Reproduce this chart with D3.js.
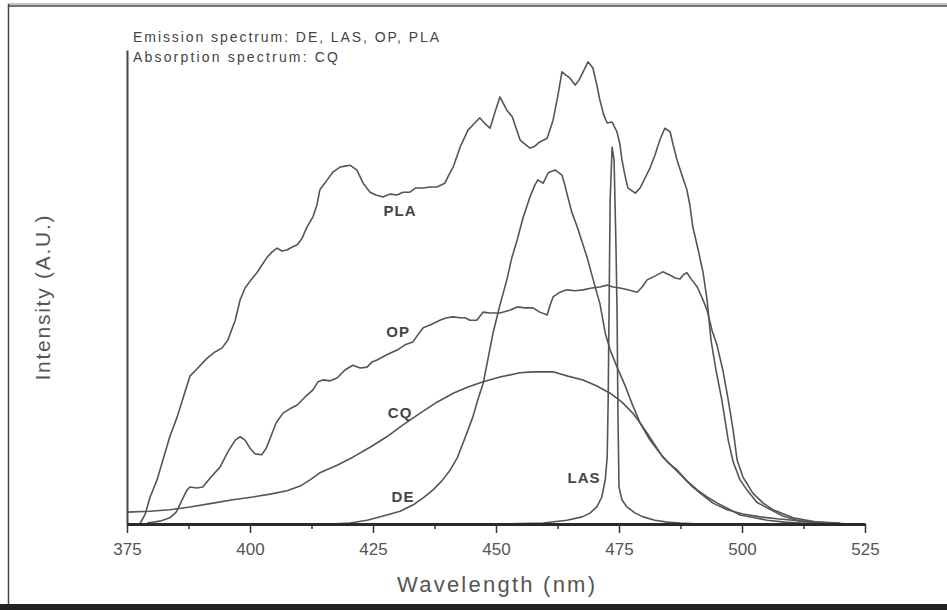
<!DOCTYPE html>
<html lang="en">

<head>
  <meta charset="UTF-8">
  <title>Emission / absorption spectra</title>
  <script src="https://d3js.org/d3.v7.min.js"></script>
  <style>
    body {
      margin: 0;
      background: #fff;
    }

    .curve {
      fill: none;
      stroke: #555;
      stroke-width: 1.6px;
      stroke-linejoin: round;
    }

    .tick text {
      font-family: "Liberation Sans", Arial, sans-serif;
      font-size: 17px;
      fill: #555;
    }

    .note {
      font-family: "Liberation Sans", Arial, sans-serif;
      fill: #444;
    }
  </style>
</head>

<body>
  <div id="chart"></div>
  <script>
    // x ticks (nm)
    const xTicks = [375, 400, 425, 450, 475, 500, 525];
    const xMinor = [387.5, 412.5, 437.5, 462.5, 487.5, 512.5];

    // [wavelength nm, intensity a.u. 0..100]
    const PLA = [[377.6, 0], [378.7, 2.1], [379.7, 5.7], [381.1, 9.3], [382.3, 13.5], [383.7, 18.4], [385.2, 22.6],
      [386.4, 26.6], [387.8, 31.2], [389.4, 32.9], [391.3, 35.0], [392.9, 36.3], [394.3, 37.1], [395.5, 38.8],
      [397.0, 43.0], [398.0, 47.3], [399.0, 49.8], [400.2, 51.5], [401.4, 53.0], [402.4, 54.6], [403.5, 56.3],
      [404.5, 57.4], [405.5, 58.2], [406.5, 57.6], [407.5, 57.8], [408.5, 58.4], [409.6, 58.9], [410.6, 60.3],
      [411.6, 62.7], [412.8, 64.8], [413.6, 67.3], [414.2, 70.5], [415.7, 72.6], [416.9, 74.3], [418.3, 75.3],
      [419.3, 75.5], [420.3, 75.7], [421.7, 74.7], [423.0, 71.9], [424.4, 70.0], [425.6, 69.4], [427.0, 69.0],
      [428.5, 69.6], [429.9, 69.4], [431.1, 70.0], [432.5, 70.0], [433.7, 70.9], [435.2, 70.9], [436.6, 71.1],
      [438.0, 71.1], [439.6, 71.9], [440.4, 73.6], [441.3, 75.3], [442.7, 79.5], [444.3, 83.1], [445.5, 84.4],
      [446.7, 85.7], [447.8, 84.4], [448.8, 83.5], [449.8, 86.9], [450.8, 90.1], [452.2, 87.3], [453.3, 85.9],
      [454.9, 81.0], [456.9, 79.3], [457.9, 79.7], [458.9, 80.6], [460.4, 81.4], [461.6, 85.2], [462.6, 90.5],
      [463.4, 95.4], [464.2, 94.7], [465.0, 94.1], [466.1, 92.6], [466.9, 93.7], [467.7, 95.4], [468.7, 97.5],
      [469.7, 96.2], [470.5, 92.6], [471.1, 89.5], [471.9, 86.3], [472.6, 84.6], [473.6, 84.8], [474.6, 82.7],
      [475.2, 80.0], [475.6, 76.8], [476.2, 73.6], [476.8, 70.9], [478.3, 69.8], [479.3, 70.9], [480.3, 73.0],
      [481.3, 75.1], [482.3, 77.8], [483.3, 81.0], [484.3, 83.5], [485.4, 82.7], [486.0, 80.0], [486.8, 76.8],
      [487.8, 73.6], [488.8, 70.5], [489.4, 67.3], [490.0, 62.7], [491.1, 57.8], [492.1, 53.0], [492.9, 47.3],
      [493.7, 38.8], [494.7, 32.5], [495.9, 26.2], [497.2, 17.7], [498.2, 13.1], [499.6, 9.3], [501.0, 7.2],
      [503.0, 4.6], [505.1, 3.4], [508.3, 1.7], [511.8, 0.6], [518.5, 0.2], [522, 0]];

    const OP = [[379.1, 0.2], [381.7, 0.6], [383.7, 1.3], [385.0, 2.5], [386.2, 5.1], [387.2, 7.2], [387.8, 7.8],
      [389.2, 7.6], [390.4, 7.8], [391.9, 9.7], [393.9, 12.0], [395.5, 15.2], [397.0, 17.7], [398.0, 18.4],
      [399.0, 17.7], [400.0, 16.0], [401.0, 14.8], [402.4, 14.6], [403.3, 16.0], [404.1, 18.1], [405.3, 21.3],
      [406.7, 23.4], [408.1, 24.3], [409.6, 25.1], [411.2, 26.8], [412.8, 28.3], [413.8, 30.0], [414.8, 30.4],
      [416.3, 30.2], [417.7, 30.8], [419.3, 32.5], [420.9, 33.5], [422.4, 32.9], [423.8, 33.1], [424.8, 34.2],
      [425.8, 34.6], [427.8, 35.7], [429.9, 36.7], [431.5, 37.8], [433.1, 38.4], [434.1, 39.9], [435.2, 41.4],
      [436.6, 42.0], [438.6, 43.0], [440.0, 43.5], [441.3, 43.7], [442.7, 43.5], [443.7, 43.5], [444.7, 43.0],
      [446.1, 43.0], [447.4, 44.7], [448.8, 44.5], [450.8, 44.5], [452.8, 45.1], [454.3, 45.8], [455.9, 45.6],
      [457.5, 45.6], [458.9, 44.7], [460.4, 44.1], [461.0, 46.2], [461.6, 47.9], [463.0, 48.9], [464.4, 49.4],
      [466.1, 49.2], [467.7, 49.4], [469.5, 49.8], [471.1, 50.0], [472.6, 50.4], [473.8, 50.0], [475.2, 49.8],
      [476.8, 49.4], [478.7, 48.9], [479.7, 50.0], [480.7, 51.5], [482.3, 52.3], [483.9, 53.2], [485.4, 52.5],
      [486.4, 51.9], [487.4, 51.7], [488.2, 52.7], [488.8, 53.0], [489.8, 51.5], [490.9, 50.0], [491.9, 47.7],
      [492.9, 45.1], [493.9, 40.9], [494.9, 37.8], [496.1, 32.5], [497.2, 26.2], [498.2, 19.8], [499.0, 13.5],
      [500.2, 9.9], [502.2, 6.5], [504.3, 4.4], [506.3, 3.0], [510.4, 1.3], [515.2, 0.4], [519.9, 0.2]];

    const DE = [[416.3, 0], [420.3, 0.2], [423.8, 0.8], [427.8, 1.9], [430.5, 2.7], [433.1, 4.0], [435.2, 5.5],
      [437.2, 7.2], [439.0, 9.1], [440.7, 11.4], [442.1, 13.9], [443.3, 17.1], [444.3, 19.8], [445.3, 22.6],
      [446.3, 26.2], [447.4, 29.7], [448.4, 35.0], [449.4, 40.3], [450.8, 46.2], [452.2, 51.5], [453.2, 56.1],
      [454.3, 59.9], [455.5, 64.6], [456.9, 69.0], [457.9, 71.5], [458.5, 72.6], [459.6, 71.9], [460.6, 74.1],
      [462.0, 74.7], [463.4, 73.6], [464.0, 71.5], [464.6, 69.0], [465.4, 65.8], [466.5, 62.7], [467.5, 59.5],
      [468.5, 56.3], [469.5, 52.5], [470.5, 48.7], [471.1, 46.6], [472.2, 40.3], [473.2, 36.7], [474.6, 33.1],
      [476.2, 29.3], [477.6, 25.5], [479.3, 21.3], [481.3, 17.7], [483.3, 15.0], [485.0, 12.9], [486.8, 11.4],
      [488.8, 9.1], [490.9, 7.2], [492.9, 5.7], [495.0, 4.4], [497.2, 3.2], [499.6, 1.9], [502.6, 1.3],
      [505.1, 0.8], [508.7, 0.4], [511.8, 0.2], [515.9, 0]];

    const CQ = [[375, 2.5], [379.7, 2.7], [383.7, 3.0], [387.8, 3.6], [392.5, 4.4], [396.5, 5.1], [400.6, 5.7],
      [404.1, 6.3], [407.5, 7.0], [410.2, 8.0], [412.2, 9.3], [414.2, 10.8], [417.7, 12.4], [420.9, 14.1],
      [424.4, 16.2], [427.8, 18.4], [431.1, 20.9], [434.6, 23.4], [438.0, 25.7], [441.3, 27.6], [444.3, 28.9],
      [447.4, 30.0], [450.8, 31.0], [454.9, 31.9], [457.5, 32.1], [460.0, 32.1], [461.6, 32.1], [464.6, 31.2],
      [467.7, 30.4], [470.5, 29.1], [473.2, 27.6], [475.6, 25.7], [477.8, 23.4], [479.3, 21.3], [480.7, 19.2],
      [482.3, 16.7], [483.9, 14.1], [486.0, 12.0], [488.0, 9.9], [489.8, 8.0], [491.5, 6.5], [494.1, 4.4],
      [497.0, 3.0], [500.2, 2.1], [503.7, 1.5], [507.1, 1.1], [510.4, 0.8], [513.8, 0.4], [517.9, 0.2]];

    const LAS = [[450.8, 0], [459.6, 0.2], [464.4, 0.8], [467.5, 1.5], [469.1, 2.3], [470.5, 3.6], [471.5, 5.7],
      [472.2, 9.3], [472.6, 14.1], [472.8, 26.2], [473.0, 47.3], [473.2, 68.4], [473.6, 79.5], [474.0, 76.8],
      [474.4, 57.8], [474.6, 45.1], [474.8, 21.9], [475.0, 7.8], [475.6, 5.1], [476.6, 3.6], [478.3, 2.3],
      [479.9, 1.5], [482.3, 0.8], [484.8, 0.4], [487.4, 0.2], [491.5, 0]];

    const curveNames = ["PLA", "OP", "DE", "CQ", "LAS"];
    const curveLabels = [["PLA", 430.5, 66.2], ["OP", 430.1, 40.5], ["CQ", 430.5, 23.4], ["DE", 431.1, 5.7], ["LAS", 467.9, 9.7]];

    const width = 947;
    const height = 610;

    const svg = d3.select("#chart").append("svg")
      .attr("width", width)
      .attr("height", height);

    // frame
    svg.append("line").attr("x1", 8).attr("x2", width).attr("y1", 4).attr("y2", 4)
      .attr("stroke", "#888").attr("stroke-width", 1);
    svg.append("line").attr("x1", 8).attr("x2", width).attr("y1", 6).attr("y2", 6)
      .attr("stroke", "#444").attr("stroke-width", 1.5);
    svg.append("line").attr("x1", 8.5).attr("x2", 8.5).attr("y1", 4).attr("y2", 604)
      .attr("stroke", "#444").attr("stroke-width", 1.5);
    svg.append("rect").attr("x", 0).attr("y", 604).attr("width", width).attr("height", 6)
      .attr("fill", "#222");

    const x = d3.scaleLinear().domain([375, 525]).range([127, 865]);
    const y = d3.scaleLinear().domain([0, 100]).range([524, 50]);

    const line = d3.line()
      .x(d => x(d[0]))
      .y(d => y(d[1]));

    const series = { PLA, OP, DE, CQ, LAS };

    svg.append("g")
      .selectAll("path")
      .data(curveNames)
      .enter().append("path")
      .attr("class", "curve")
      .attr("d", n => line(series[n]));

    // y axis: bare line
    const yAxis = svg.append("g")
      .attr("transform", "translate(127,0)")
      .call(d3.axisLeft(y).tickValues([]).tickSizeOuter(0));
    yAxis.select(".domain").attr("stroke", "#444").attr("stroke-width", 2);

    // x axis
    const xMinorAxis = svg.append("g")
      .attr("transform", "translate(0,524)")
      .call(d3.axisBottom(x).tickValues(xMinor).tickSize(5).tickFormat(""));
    xMinorAxis.select(".domain").remove();
    xMinorAxis.selectAll(".tick line").attr("stroke", "#333").attr("stroke-width", 1.5);

    const xAxis = svg.append("g")
      .attr("transform", "translate(0,524)")
      .call(d3.axisBottom(x).tickValues(xTicks).tickSize(9).tickSizeOuter(0).tickPadding(10));
    xAxis.select(".domain").attr("stroke", "#2a2a2a").attr("stroke-width", 3);
    xAxis.selectAll(".tick line").attr("stroke", "#333").attr("stroke-width", 1.5);

    // curve labels
    svg.append("g")
      .selectAll("text")
      .data(curveLabels)
      .enter().append("text")
      .attr("class", "note")
      .attr("x", d => x(d[1]))
      .attr("y", d => y(d[2]))
      .attr("text-anchor", "middle")
      .attr("dy", "0.36em")
      .style("font-size", "15px")
      .style("font-weight", "bold")
      .style("letter-spacing", "1px")
      .text(d => d[0]);

    // header notes
    svg.append("text")
      .attr("class", "note")
      .attr("x", 133).attr("y", 42)
      .attr("textLength", 306).attr("lengthAdjust", "spacing")
      .style("font-size", "14px")
      .text("Emission spectrum: DE, LAS, OP, PLA");
    svg.append("text")
      .attr("class", "note")
      .attr("x", 133).attr("y", 62)
      .attr("textLength", 205).attr("lengthAdjust", "spacing")
      .style("font-size", "14px")
      .text("Absorption spectrum: CQ");

    // axis titles
    svg.append("text")
      .attr("class", "note")
      .attr("text-anchor", "middle")
      .attr("x", x(450)).attr("y", 592)
      .attr("textLength", 198).attr("lengthAdjust", "spacing")
      .style("font-size", "22px")
      .style("fill", "#555")
      .text("Wavelength (nm)");

    svg.append("text")
      .attr("class", "note")
      .attr("text-anchor", "middle")
      .attr("transform", "translate(50,298) rotate(-90)")
      .attr("textLength", 165).attr("lengthAdjust", "spacing")
      .style("font-size", "21px")
      .style("fill", "#555")
      .text("Intensity (A.U.)");
  </script>
</body>

</html>
